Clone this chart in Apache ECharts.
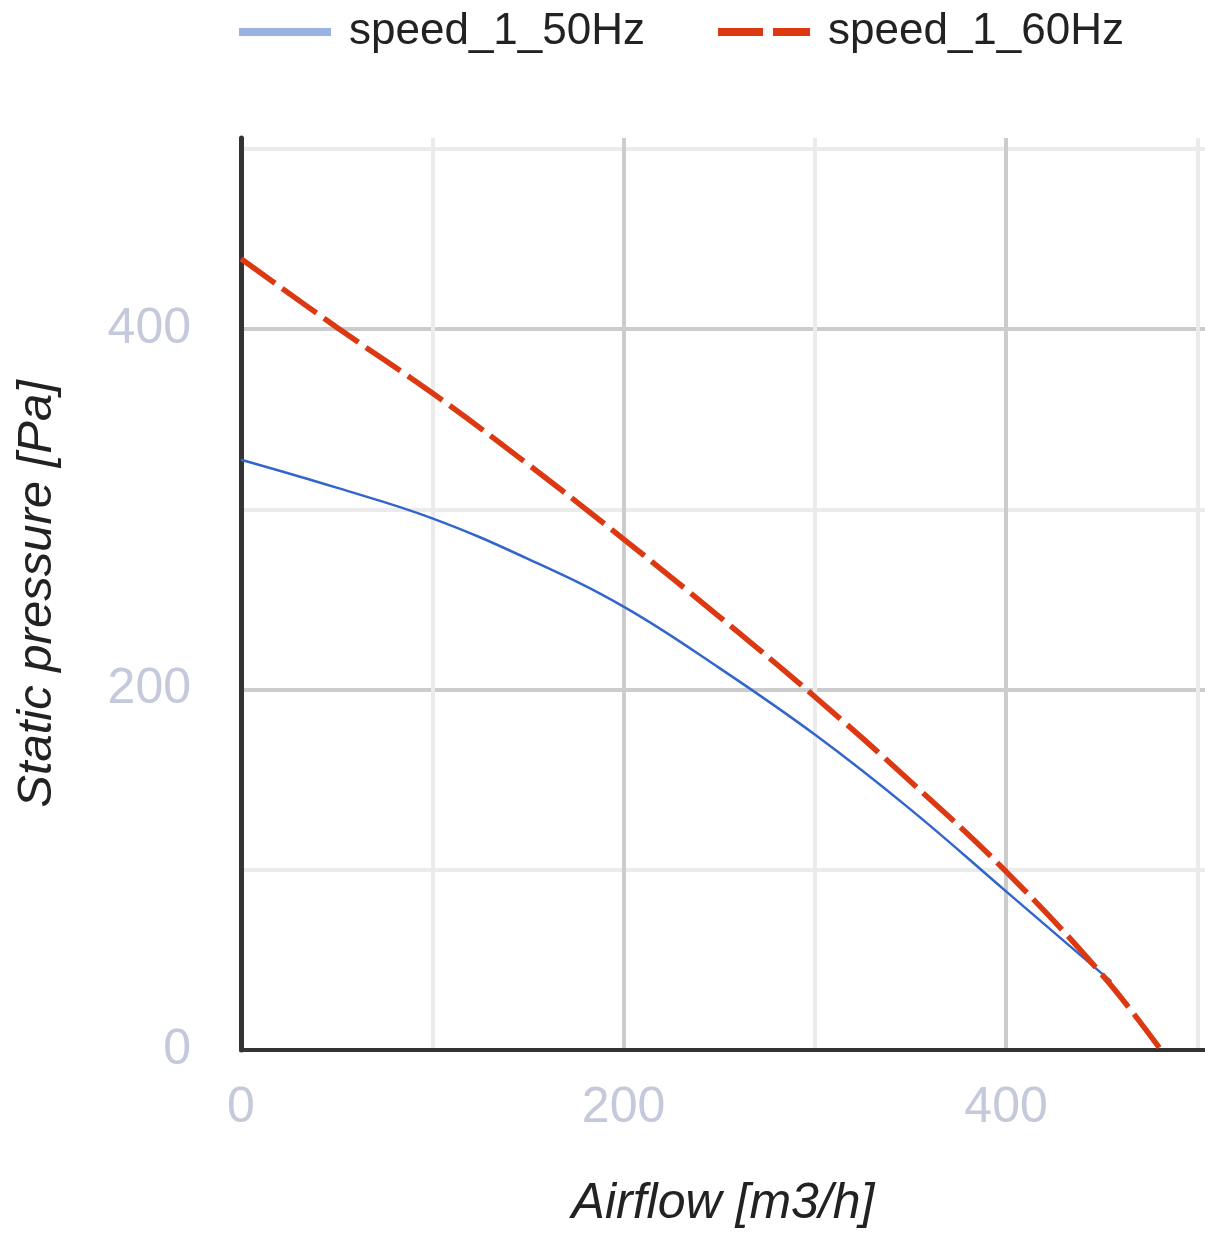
<!DOCTYPE html>
<html>
<head>
<meta charset="utf-8">
<script src="https://cdn.jsdelivr.net/npm/echarts@6/dist/echarts.min.js"></script>
<style>
  html, body { margin: 0; padding: 0; background: #fff; }
  #chart { width: 1205px; height: 1234px; }
</style>
</head>
<body>
<div id="chart"></div>
<script>
// fan curve data
const airflow50 = [0, 50, 100, 150, 200, 250, 300, 350, 400, 450, 455];
const pressure50 = [327.5, 312, 295, 272.5, 246, 212, 175, 133.5, 88, 42.5, 38];
const airflow60 = [0, 50, 100, 150, 200, 250, 300, 350, 400, 450, 481];
const pressure60 = [439, 401, 364.5, 325, 283.5, 240.5, 196, 149, 99, 42, 0];
const seriesNames = ["speed_1_50Hz", "speed_1_60Hz"];

const font = "'Liberation Sans', Arial, sans-serif";
const labelColor = "#c4c9db";

const toPairs = (xs, ys) => xs.map((x, i) => [x, ys[i]]);

const chart = echarts.init(document.getElementById("chart"));

chart.setOption({
  animation: false,
  legend: {
    left: 239,
    top: 10,
    padding: 0,
    itemWidth: 92,
    itemHeight: 8,
    itemGap: 73,
    textStyle: {
      fontFamily: font,
      fontSize: 44,
      color: "#222",
      padding: [0, 0, 0, 13],
    },
    data: [
      {
        name: seriesNames[0],
        icon: "path://M0,0H92V8H0Z",
        itemStyle: { color: "#9ab3e5" },
      },
      {
        name: seriesNames[1],
        icon: "path://M0,0H45V8H0Z M55,0H92V8H55Z",
        itemStyle: { color: "#dc3912" },
      },
    ],
  },
  grid: {
    left: 241,
    right: 0,
    top: 138,
    bottom: 184,
    containLabel: false,
    outerBoundsMode: "none",
  },
  xAxis: {
    type: "value",
    min: 0,
    max: 504,
    interval: 100,
    name: "Airflow [m3/h]",
    nameLocation: "middle",
    nameGap: 129,
    nameTextStyle: {
      fontFamily: font,
      fontSize: 50,
      fontStyle: "italic",
      color: "#222",
    },
    axisLine: { lineStyle: { color: "#333", width: 4 } },
    axisTick: { show: false },
    axisLabel: {
      fontFamily: font,
      fontSize: 50,
      color: labelColor,
      margin: 33,
      formatter: (v) => (v % 200 === 0 ? String(v) : ""),
    },
    splitLine: {
      show: true,
      showMaxLine: false,
      lineStyle: { color: ["#cccccc", "#ebebeb"], width: 4 },
    },
  },
  yAxis: {
    type: "value",
    min: 0,
    max: 506,
    interval: 100,
    name: "Static pressure [Pa]",
    nameLocation: "middle",
    nameGap: 179,
    nameTextStyle: {
      fontFamily: font,
      fontSize: 49,
      fontStyle: "italic",
      color: "#222",
    },
    axisLine: { show: true, lineStyle: { color: "#333", width: 5 } },
    axisTick: { show: false },
    axisLabel: {
      fontFamily: font,
      fontSize: 50,
      color: labelColor,
      margin: 50,
      formatter: (v) => (v % 200 === 0 ? String(v) : ""),
    },
    splitLine: {
      show: true,
      showMaxLine: false,
      lineStyle: { color: ["#cccccc", "#ebebeb"], width: 4 },
    },
  },
  series: [
    {
      name: seriesNames[0],
      type: "line",
      smooth: 0.4,
      symbol: "none",
      data: toPairs(airflow50, pressure50),
      lineStyle: { color: "#3366cc", width: 2.5 },
      itemStyle: { color: "#3366cc" },
      z: 2,
    },
    {
      name: seriesNames[1],
      type: "line",
      smooth: 0.4,
      symbol: "none",
      data: toPairs(airflow60, pressure60),
      lineStyle: { color: "#dc3912", width: 5.5, type: [42, 9] },
      itemStyle: { color: "#dc3912" },
      z: 3,
    },
  ],
});
</script>
</body>
</html>
